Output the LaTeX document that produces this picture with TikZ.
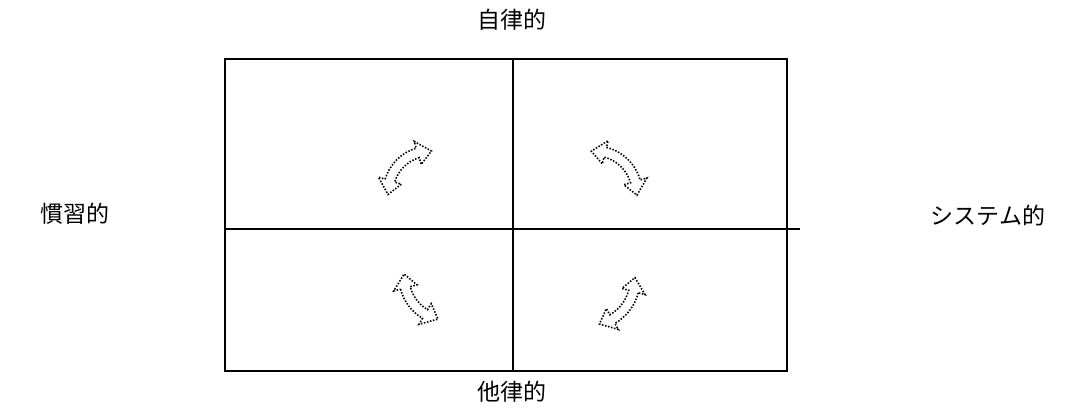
\documentclass[tikz,border=0pt]{standalone}
\usepackage{fontspec}
\setmainfont{Noto Sans CJK JP}
\tikzset{
  frame/.style={line width=1.7pt},
  lbl/.style={font=\fontsize{23}{26}\selectfont, inner sep=0pt},
  arrowline/.style={line width=1.6pt, dash pattern=on 1.5pt off 1.6pt},
}
% curved double-headed outline arrow: centre x, centre y, radius, tip angle a, tip angle b
\newcommand\cvarrow[5]{%
  \pgfmathsetmacro\cvS{sign(#5-#4)}%
  \pgfmathsetmacro\cvHd{deg(14/#3)}%
  \pgfmathsetmacro\cvA{#4+\cvS*\cvHd}%
  \pgfmathsetmacro\cvB{#5-\cvS*\cvHd}%
  \pgfmathsetmacro\cvRo{#3+5}%
  \pgfmathsetmacro\cvRi{#3-5}%
  \pgfmathsetmacro\cvHo{#3+12}%
  \pgfmathsetmacro\cvHi{#3-12}%
  \draw[arrowline, shift={(#1,#2)}]
    (\cvA:\cvRo) arc[start angle=\cvA, end angle=\cvB, radius=\cvRo]
    -- (\cvB:\cvHo) -- (#5:#3) -- (\cvB:\cvHi) -- (\cvB:\cvRi)
    arc[start angle=\cvB, end angle=\cvA, radius=\cvRi]
    -- (\cvA:\cvHi) -- (#4:#3) -- (\cvA:\cvHo) -- cycle;}
\begin{document}
\begin{tikzpicture}[x=1pt, y=1pt]
  \useasboundingbox (0,0) rectangle (1067,410);
  \coordinate (nw) at (225,351);
  \coordinate (se) at (787,39);
  \coordinate (mt) at (513,351);
  \coordinate (mb) at (513,39);
  \coordinate (ml) at (225,181);
  \coordinate (mr) at (800,181);
  \draw[frame] (nw) rectangle (se);
  \draw[frame] (mt) -- (mb);
  \draw[frame] (ml) -- (mr);
  \node[lbl] (top) at (512,390) {自律的};
  \node[lbl] (bot) at (512,18) {他律的};
  \node[lbl] (left) at (75,196) {慣習的};
  \node[lbl] (right) at (988,194) {システム的};
  \cvarrow{430}{217}{42}{182}{88}
  \cvarrow{595}{217}{42}{95}{-3}
  \cvarrow{447}{133}{43}{176}{258}
  \cvarrow{590}{130}{45}{3}{-78}
\end{tikzpicture}
\end{document}
